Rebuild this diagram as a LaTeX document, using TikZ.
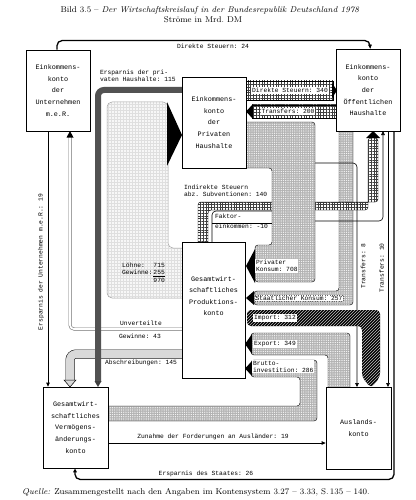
\documentclass[tikz,border=0pt]{standalone}
\usepackage{fontspec}
\setmonofont{Liberation Mono}
\usetikzlibrary{arrows.meta,patterns}
\pgfdeclarepatternformonly{fgrid}{\pgfpoint{-0.1pt}{-0.1pt}}{\pgfpoint{2.9pt}{2.9pt}}{\pgfpoint{2.8pt}{2.8pt}}{%
  \pgfsetlinewidth{0.4pt}%
  \pgfpathmoveto{\pgfpoint{0pt}{1.4pt}}\pgfpathlineto{\pgfpoint{2.8pt}{1.4pt}}%
  \pgfpathmoveto{\pgfpoint{1.4pt}{0pt}}\pgfpathlineto{\pgfpoint{1.4pt}{2.8pt}}%
  \pgfusepath{stroke}}
\pgfdeclarepatternformonly{fdots}{\pgfpoint{-0.1pt}{-0.1pt}}{\pgfpoint{1.9pt}{1.9pt}}{\pgfpoint{1.8pt}{1.8pt}}{%
  \pgfpathcircle{\pgfpoint{0.9pt}{0.9pt}}{0.5pt}\pgfusepath{fill}}
\tikzset{
  acct/.style={draw, fill=white, line width=0.8pt, inner sep=0pt, align=center,
    font=\ttfamily\fontsize{6.8}{11.6}\selectfont},
  btext/.style={inner sep=0pt, align=center, font=\ttfamily\fontsize{6.8}{11.6}\selectfont},
  lbl/.style={font=\ttfamily\fontsize{6.3}{7.4}\selectfont, inner sep=0.8pt, align=left},
  wlbl/.style={lbl, fill=white},
  dotband/.style={preaction={fill=gray!60}, pattern=fdots, pattern color=white, draw, line width=0.4pt, rounded corners=3pt},
  chkband/.style={preaction={fill=white}, pattern=fgrid, pattern color=black!75, draw, line width=0.4pt, rounded corners=3pt},
  ahead/.style={fill=black},
  arr/.style={-{Triangle[length=4pt,width=3.6pt]}},
}
\begin{document}
\begin{tikzpicture}[x=1pt,y=-1pt]
\path[use as bounding box, fill=white] (0,0) rectangle (415,500);

% title
\node[font=\fontsize{8.4}{10}\selectfont, inner sep=0pt] (title) at (210,10) {Bild 3.5 -- \textit{Der Wirtschaftskreislauf in der Bundesrepublik Deutschland 1978}};
\node[font=\fontsize{8.4}{10}\selectfont, inner sep=0pt] (sub) at (203,20) {Ströme in Mrd.\ DM};
\node[font=\fontsize{8.4}{10}\selectfont, inner sep=0pt, anchor=west] (src) at (22,492) {\textit{Quelle:} Zusammengestellt nach den Angaben im Kontensystem 3.27 -- 3.33, S.\,135 -- 140.};

% Loehne / Gewinne region
\path[preaction={fill=gray!6}, pattern=grid, pattern color=gray!25, draw=gray!70, line width=0.5pt, rounded corners=5pt]
  (187,298) -- (107,298) -- (107,102) -- (168,102) -- (168,248) -- (187,248);

% Abschreibungen
\draw[line width=0.5pt, double=gray!30, double distance=8pt, rounded corners=6pt] (187,354) -- (70,354) -- (70,381);
% Unverteilte Gewinne
\draw[black!55, line width=0.6pt, double=white, double distance=1.8pt, rounded corners=4pt] (187,329) -- (70,329) -- (70,137);
% Ersparnis der privaten Haushalte
\draw[line width=6pt, black!68, rounded corners=6pt] (187,90) -- (98,90) -- (98,382);

% Staatlicher Konsum
\path[dotband] (339,126) -- (353,126) -- (353,305) -- (254,305) -- (254,291) -- (339,291) -- cycle;
% Indirekte Steuern
\path[chkband] (198,247) -- (198,202) -- (378,202) -- (378,138) -- (368,138) -- (368,210) -- (208,210) -- (208,247) -- cycle;

% thin flows under Privater Konsum
\draw[line width=0.6pt, rounded corners=4pt, arr] (246,163) -- (357,163) -- (357,387);
\draw[line width=0.6pt, rounded corners=4pt, arr] (212,242) -- (212,211) -- (290,211) -- (290,221) -- (383,221) -- (383,131);
\draw[line width=0.5pt] (212,223) -- (272,223);
\draw[line width=0.6pt, arr] (388,131) -- (388,387);

% Privater Konsum
\path[dotband] (240,122) -- (315,122) -- (315,282) -- (255,282) -- (255,245) -- (272,245) -- (272,168) -- (240,168) -- cycle;

% Direkte Steuern 340 / Transfers 200
\path[chkband, rounded corners=0pt] (240,81) rectangle (333,100);
\path[chkband, rounded corners=0pt] (252,105) rectangle (342,118);

% Import
\path[preaction={fill=black}, pattern=north east lines, pattern color=gray!50, rounded corners=4pt]
  (247,310) -- (380,310) -- (380,377) -- (371,388) -- (362,377) -- (362,326) -- (247,326) -- cycle;
% Export
\path[dotband] (251,333) -- (350,333) -- (350,392) -- (328,392) -- (328,355) -- (251,355) -- cycle;
% Bruttoinvestition
\path[dotband] (251,360) -- (317,360) -- (317,421) -- (103,421) -- (103,406) -- (300,406) -- (300,377) -- (251,377) -- cycle;

% accounts
\node[acct, minimum width=64, minimum height=81] (U) at (58,90.5) {Einkommens-\\konto\\der\\Unternehmen\\m.e.R.};
\node[acct, minimum width=64, minimum height=91] (H) at (214,122.5) {Einkommens-\\konto\\der\\Privaten\\Haushalte};
\node[acct, minimum width=64, minimum height=82] (S) at (368,90) {Einkommens-\\konto\\der\\Öffentlichen\\Haushalte};
\node[acct, minimum width=63, minimum height=136] (P) at (213.5,310) {};
\node[btext] (Ptext) at (213.5,296) {Gesamtwirt-\\schaftliches\\Produktions-\\konto};
\node[acct, minimum width=65, minimum height=81] (V) at (75.5,427.5) {Gesamtwirt-\\schaftliches\\Vermögens-\\änderungs-\\konto};
\node[acct, minimum width=65, minimum height=82] (A) at (358.5,428) {Auslands-\\konto};

% thin connectors between accounts
\draw[line width=1.3pt, rounded corners=5pt, arr] ([xshift=-1]U.north) -- ++(0,-9) -| ([xshift=2]S.north);
\draw[line width=0.8pt, arr] ([xshift=-10]U.south) -- ([xshift=-10]U.south |- V.north);
\draw[line width=0.8pt, arr] (V.east |- 0,443) -- (A.west |- 0,443);
\draw[line width=1.3pt, rounded corners=5pt, arr] ([xshift=26]S.south) -- ++(0,348) -| ([xshift=-0.5]V.south);

% arrowheads of the bands
\fill[ahead] (167,102) -- (182,135) -- (167,166) -- cycle;
\draw[fill=gray!30, line width=0.5pt] (64,380) -- (76,380) -- (70,387) -- cycle;
\fill[black!75] (94.5,381) -- (101.5,381) -- (98,387) -- cycle;
\fill[ahead] (66.5,137.5) -- (73.5,137.5) -- (70,131) -- cycle;
\fill[ahead] (366,138) -- (373,131) -- (380,138) -- cycle;
\fill[ahead] (255,249) -- (246,266) -- (255,283) -- cycle;
\fill[ahead] (254,291) -- (246,298) -- (254,305) -- cycle;
\fill[ahead] (332,83) -- (337,90.5) -- (332,98) -- cycle;
\fill[ahead] (253,104) -- (246,111.5) -- (253,119) -- cycle;
\fill[ahead] (252,334) -- (245,344) -- (252,354) -- cycle;
\fill[ahead] (252,361) -- (245,368.5) -- (252,376) -- cycle;

% labels
\node[lbl] (l24) at (213,46) {Direkte Steuern: 24};
\node[wlbl] (l340) at (290,90.5) {Direkte Steuern: 340};
\node[wlbl] (l200) at (288,111.5) {Transfers: 200};
\node[lbl, anchor=north west] (l115) at (99,69) {Ersparnis der pri-\\vaten Haushalte: 115};
\node[lbl, anchor=north west] (l140) at (183,184) {Indirekte Steuern\\abz. Subventionen: 140};
\node[lbl, anchor=north west, font=\ttfamily\fontsize{6.3}{10}\selectfont] (lfak) at (214,213) {Faktor-\\einkommen: -10};
\node[wlbl, anchor=north west] (l708) at (255,259) {Privater\\Konsum: 708};
\node[wlbl, draw=black!60, dotted, line width=0.4pt] (l257) at (299,298) {Staatlicher Konsum: 257};
\node[wlbl] (l312) at (275,318) {Import: 312};
\node[wlbl] (l349) at (275,344) {Export: 349};
\node[wlbl, anchor=north west] (l286) at (252,360) {Brutto-\\investition: 286};
\node[lbl, anchor=north west, inner sep=0pt] (lloehne) at (122,262) {\begin{tabular}{@{}l@{\,}r@{}}Löhne: & 715\\ Gewinne: & \underline{255}\\ & 970\end{tabular}};
\node[lbl] (lunv) at (141,323) {Unverteilte};
\node[lbl] (lgew) at (140,336) {Gewinne: 43};
\node[lbl] (labs) at (141,363) {Abschreibungen: 145};
\node[lbl] (lzun) at (213,437) {Zunahme der Forderungen an Ausländer: 19};
\node[lbl] (lest) at (206,473.5) {Ersparnis des Staates: 26};
\node[lbl, rotate=90] (leu) at (41,262) {Ersparnis der Unternehmen m.e.R.: 19};
\node[lbl, rotate=90] (lt8) at (363,266) {Transfers: 8};
\node[lbl, rotate=90] (lt10) at (381.5,268) {Transfers: 10};
\end{tikzpicture}
\end{document}
